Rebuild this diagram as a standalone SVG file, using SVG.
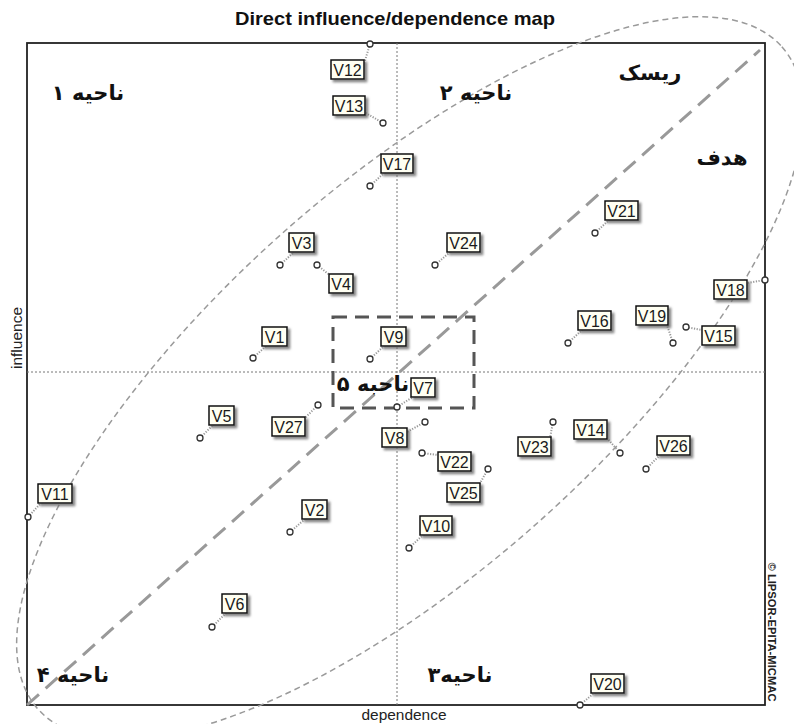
<svg xmlns="http://www.w3.org/2000/svg" width="794" height="724" viewBox="0 0 794 724">
<style>
.frame{fill:none;stroke:#222;stroke-width:1.8}
.axis{fill:none;stroke:#777;stroke-width:1;stroke-dasharray:2,2}
.diag{fill:none;stroke:#999;stroke-width:3;stroke-dasharray:16,9}
.ell{fill:none;stroke:#9a9a9a;stroke-width:1.5;stroke-dasharray:6,4}
.zone{fill:none;stroke:#555;stroke-width:3;stroke-dasharray:14,8}
.box{fill:#fffff2;stroke:#111;stroke-width:1.5;filter:url(#sh)}
.lbl{font-family:"Liberation Sans",Arial,sans-serif;font-size:16px;fill:#1a1a1a;text-anchor:middle}
.pt{fill:#fff;stroke:#333;stroke-width:1.3}
.con{stroke:#999;stroke-width:2;stroke-dasharray:1.2,1.5;fill:none}
.fa{font-family:"DejaVu Sans",sans-serif;font-weight:bold;font-size:21px;fill:#111;text-anchor:middle}
.title{font-family:"Liberation Sans",Arial,sans-serif;font-weight:bold;font-size:19px;fill:#111;text-anchor:middle}
.ax{font-family:"Liberation Sans",Arial,sans-serif;font-size:14px;fill:#222;text-anchor:middle}
</style>
<defs>
<filter id="sh" x="-20%" y="-20%" width="150%" height="160%">
<feDropShadow dx="2.5" dy="2.5" stdDeviation="1" flood-color="#666" flood-opacity="0.8"/>
</filter>
</defs>
<rect width="794" height="724" fill="#fff"/>
<text class="title" x="395" y="25" textLength="320" lengthAdjust="spacingAndGlyphs">Direct influence/dependence map</text>
<rect class="frame" x="27" y="43" width="738" height="662"/>
<line class="axis" x1="27" y1="372" x2="765" y2="372"/>
<line class="axis" x1="397" y1="43" x2="397" y2="705"/>
<text class="ax" transform="translate(22,338) rotate(-90)" textLength="62" lengthAdjust="spacingAndGlyphs">influence</text>
<text class="ax" x="404" y="720" textLength="85" lengthAdjust="spacingAndGlyphs">dependence</text>
<text transform="translate(768,632) rotate(90)" font-family="Liberation Sans, Arial, sans-serif" font-weight="bold" font-size="11" fill="#222" text-anchor="middle" textLength="139" lengthAdjust="spacingAndGlyphs">© LIPSOR-EPITA-MICMAC</text>
<g id="overlay">
<line class="diag" x1="27" y1="705" x2="760" y2="50"/>
<ellipse class="ell" cx="410" cy="378" rx="498" ry="193" transform="rotate(-41.7 410 378)"/>
<rect class="zone" x="333" y="317" width="141" height="91"/>
</g>
<g id="connectors">
<line class="con" x1="370" y1="44" x2="364" y2="64"/>
<line class="con" x1="383" y1="123" x2="364" y2="112"/>
<line class="con" x1="370" y1="186" x2="384" y2="173"/>
<line class="con" x1="280" y1="265" x2="294" y2="252"/>
<line class="con" x1="317" y1="265" x2="331" y2="276"/>
<line class="con" x1="435" y1="265" x2="450" y2="252"/>
<line class="con" x1="595" y1="233" x2="609" y2="220"/>
<line class="con" x1="765" y1="280" x2="747" y2="283"/>
<line class="con" x1="568" y1="343" x2="582" y2="330"/>
<line class="con" x1="673" y1="343" x2="667" y2="325"/>
<line class="con" x1="686" y1="327" x2="702" y2="330"/>
<line class="con" x1="253" y1="358" x2="266" y2="346"/>
<line class="con" x1="370" y1="359" x2="384" y2="346"/>
<line class="con" x1="397" y1="407" x2="413" y2="397"/>
<line class="con" x1="200" y1="438" x2="213" y2="425"/>
<line class="con" x1="318" y1="405" x2="305" y2="418"/>
<line class="con" x1="425" y1="422" x2="407" y2="432"/>
<line class="con" x1="422" y1="453" x2="438" y2="455"/>
<line class="con" x1="488" y1="469" x2="479" y2="485"/>
<line class="con" x1="409" y1="548" x2="423" y2="535"/>
<line class="con" x1="553" y1="422" x2="550" y2="438"/>
<line class="con" x1="620" y1="453" x2="607" y2="438"/>
<line class="con" x1="646" y1="469" x2="660" y2="455"/>
<line class="con" x1="28" y1="517" x2="41" y2="503"/>
<line class="con" x1="290" y1="532" x2="305" y2="519"/>
<line class="con" x1="212" y1="627" x2="226" y2="613"/>
<line class="con" x1="580" y1="705" x2="594" y2="693"/>
</g>
<g id="nodes">
<g id="V12"><circle class="pt" cx="370" cy="44" r="3"/><rect class="box" x="331" y="60" width="33" height="19"/><text class="lbl" x="347.5" y="75.5">V12</text></g>
<g id="V13"><circle class="pt" cx="383" cy="123" r="3"/><rect class="box" x="333" y="96" width="32" height="19"/><text class="lbl" x="349" y="111.5">V13</text></g>
<g id="V17"><circle class="pt" cx="370" cy="186" r="3"/><rect class="box" x="381" y="154" width="32" height="19"/><text class="lbl" x="397" y="169.5">V17</text></g>
<g id="V3"><circle class="pt" cx="280" cy="265" r="3"/><rect class="box" x="289" y="233" width="25" height="19"/><text class="lbl" x="301.5" y="248.5">V3</text></g>
<g id="V4"><circle class="pt" cx="317" cy="265" r="3"/><rect class="box" x="329" y="274" width="24" height="19"/><text class="lbl" x="341" y="289.5">V4</text></g>
<g id="V24"><circle class="pt" cx="435" cy="265" r="3"/><rect class="box" x="447" y="233" width="33" height="19"/><text class="lbl" x="463.5" y="248.5">V24</text></g>
<g id="V21"><circle class="pt" cx="595" cy="233" r="3"/><rect class="box" x="605" y="201" width="33" height="19"/><text class="lbl" x="621.5" y="216.5">V21</text></g>
<g id="V18"><circle class="pt" cx="765" cy="280" r="3"/><rect class="box" x="714" y="280" width="33" height="19"/><text class="lbl" x="730.5" y="295.5">V18</text></g>
<g id="V16"><circle class="pt" cx="568" cy="343" r="3"/><rect class="box" x="578" y="311" width="33" height="19"/><text class="lbl" x="594.5" y="326.5">V16</text></g>
<g id="V19"><circle class="pt" cx="673" cy="343" r="3"/><rect class="box" x="636" y="306" width="32" height="19"/><text class="lbl" x="652" y="321.5">V19</text></g>
<g id="V15"><circle class="pt" cx="686" cy="327" r="3"/><rect class="box" x="702" y="326" width="33" height="19"/><text class="lbl" x="718.5" y="341.5">V15</text></g>
<g id="V1"><circle class="pt" cx="253" cy="358" r="3"/><rect class="box" x="262" y="327" width="25" height="19"/><text class="lbl" x="274.5" y="342.5">V1</text></g>
<g id="V9"><circle class="pt" cx="370" cy="359" r="3"/><rect class="box" x="381" y="327" width="25" height="19"/><text class="lbl" x="393.5" y="342.5">V9</text></g>
<g id="V7"><circle class="pt" cx="397" cy="407" r="3"/><rect class="box" x="411" y="378" width="24" height="19"/><text class="lbl" x="423" y="393.5">V7</text></g>
<g id="V5"><circle class="pt" cx="200" cy="438" r="3"/><rect class="box" x="209" y="406" width="25" height="19"/><text class="lbl" x="221.5" y="421.5">V5</text></g>
<g id="V27"><circle class="pt" cx="318" cy="405" r="3"/><rect class="box" x="272" y="417" width="33" height="19"/><text class="lbl" x="288.5" y="432.5">V27</text></g>
<g id="V8"><circle class="pt" cx="425" cy="422" r="3"/><rect class="box" x="382" y="428" width="25" height="19"/><text class="lbl" x="394.5" y="443.5">V8</text></g>
<g id="V22"><circle class="pt" cx="422" cy="453" r="3"/><rect class="box" x="438" y="452" width="33" height="19"/><text class="lbl" x="454.5" y="467.5">V22</text></g>
<g id="V25"><circle class="pt" cx="488" cy="469" r="3"/><rect class="box" x="447" y="483" width="33" height="19"/><text class="lbl" x="463.5" y="498.5">V25</text></g>
<g id="V10"><circle class="pt" cx="409" cy="548" r="3"/><rect class="box" x="420" y="516" width="32" height="19"/><text class="lbl" x="436" y="531.5">V10</text></g>
<g id="V23"><circle class="pt" cx="553" cy="422" r="3"/><rect class="box" x="518" y="437" width="33" height="19"/><text class="lbl" x="534.5" y="452.5">V23</text></g>
<g id="V14"><circle class="pt" cx="620" cy="453" r="3"/><rect class="box" x="574" y="420" width="33" height="19"/><text class="lbl" x="590.5" y="435.5">V14</text></g>
<g id="V26"><circle class="pt" cx="646" cy="469" r="3"/><rect class="box" x="657" y="436" width="33" height="19"/><text class="lbl" x="673.5" y="451.5">V26</text></g>
<g id="V11"><circle class="pt" cx="28" cy="517" r="3"/><rect class="box" x="38" y="484" width="34" height="19"/><text class="lbl" x="55" y="499.5">V11</text></g>
<g id="V2"><circle class="pt" cx="290" cy="532" r="3"/><rect class="box" x="302" y="500" width="25" height="19"/><text class="lbl" x="314.5" y="515.5">V2</text></g>
<g id="V6"><circle class="pt" cx="212" cy="627" r="3"/><rect class="box" x="222" y="594" width="25" height="19"/><text class="lbl" x="234.5" y="609.5">V6</text></g>
<g id="V20"><circle class="pt" cx="580" cy="705" r="3"/><rect class="box" x="591" y="674" width="33" height="19"/><text class="lbl" x="607.5" y="689.5">V20</text></g>
</g>
<g id="zones">
<text class="fa" x="88" y="100">ناحیه ۱</text>
<text class="fa" x="476" y="100">ناحیه ۲</text>
<text class="fa" x="650" y="80">ریسک</text>
<text class="fa" x="722" y="165">هدف</text>
<text class="fa" x="73" y="682">ناحیه ۴</text>
<text class="fa" x="460" y="682">ناحیه۳</text>
<text class="fa" x="373" y="391">ناحبه ۵</text>
</g>
</svg>
